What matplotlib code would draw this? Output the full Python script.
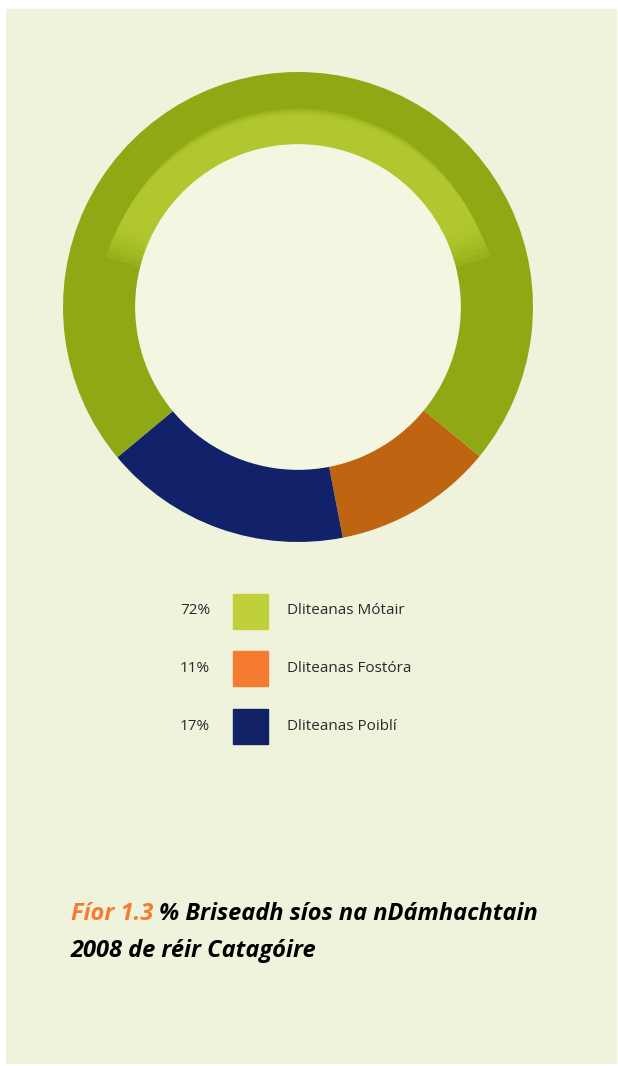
import matplotlib.pyplot as plt
from matplotlib.patches import Rectangle, Circle, Wedge

# data
catagoir = ["Dliteanas Mótair", "Dliteanas Fostóra", "Dliteanas Poiblí"]
cion = [72, 11, 17]
dathanna = ["#bfd03a", "#f47b30", "#122266"]

# colours used in the ring itself (darker than the legend swatches)
dath_fainne = ["#8fa915", "#bf6410", "#12226a"]

W, H = 618, 1066
fig = plt.figure(figsize=(W / 100, H / 100), dpi=100)
fig.patch.set_facecolor("white")

# background panel
bg = fig.add_axes([0, 0, 1, 1])
bg.set_xlim(0, W)
bg.set_ylim(H, 0)
bg.axis("off")
bg.add_patch(Rectangle((6, 9), 610, 1054, color="#eff3dc", zorder=0))

# donut
cx, cy, R = 298, 307, 235
ax = fig.add_axes([(cx - R) / W, (H - cy - R) / H, 2 * R / W, 2 * R / H])
ax.set_aspect("equal")
# order: orange, green, navy going counter-clockwise from bottom-right
order = [1, 0, 2]
ax.pie([cion[i] for i in order], colors=[dath_fainne[i] for i in order],
       startangle=-79, counterclock=True, radius=1.0,
       wedgeprops=dict(width=0.31, linewidth=0))
# soft highlight on the inner top of the green band
for k in range(8):
    ax.add_patch(Wedge((0, -0.05 + 0.01 * k), 0.86 - 0.005 * k, 18 + k, 162 - k,
                       width=0.16, color="#bcd038", alpha=0.2, lw=0, zorder=3))
ax.add_patch(Circle((0, 0), 0.69, color="#f3f6e1", zorder=4))
ax.set_xlim(-1, 1)
ax.set_ylim(-1, 1)
ax.axis("off")

# legend
ys = [611, 668, 726]
for i in range(3):
    bg.text(210, ys[i], f"{cion[i]}%", ha="right", va="center",
            fontsize=11, family="Open Sans", color="#2a2a2a")
    bg.add_patch(Rectangle((233, ys[i] - 17.5), 35, 35, color=dathanna[i]))
    bg.text(287, ys[i], catagoir[i], ha="left", va="center",
            fontsize=11, family="Open Sans", color="#2a2a2a")

# caption
t1 = bg.text(71, 914, "Fíor 1.3 ", ha="left", va="center", fontsize=17,
             family="Open Sans", weight="bold", style="italic", color="#f47b30")
fig.canvas.draw()
bb = t1.get_window_extent()
x2 = bg.transData.inverted().transform((bb.x1, bb.y0))[0]
bg.text(x2, 914, "% Briseadh síos na nDámhachtain", ha="left", va="center",
        fontsize=17, family="Open Sans", weight="bold", style="italic",
        color="black")
bg.text(71, 951, "2008 de réir Catagóire", ha="left", va="center", fontsize=17,
        family="Open Sans", weight="bold", style="italic", color="black")

fig.savefig("out.png", dpi=100, facecolor="white")
